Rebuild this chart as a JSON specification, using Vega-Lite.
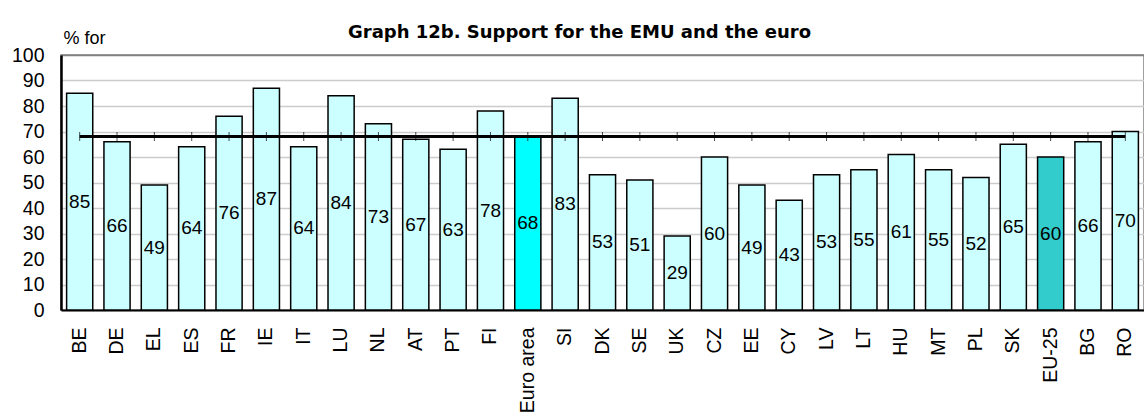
{
  "$schema": "https://vega.github.io/schema/vega-lite/v6.json",
  "autosize": "none",
  "width": 1083,
  "height": 255,
  "padding": {"left": 61, "top": 55, "right": 0, "bottom": 106},
  "background": "white",
  "config": {
    "font": "Liberation Sans",
    "view": {"stroke": "#808080", "strokeWidth": 1.5}
  },
  "title": {
    "text": "Graph 12b. Support for the EMU and the euro",
    "font": "DejaVu Sans",
    "fontSize": 18,
    "fontWeight": "bold",
    "color": "black",
    "anchor": "start",
    "frame": "group",
    "dx": 287,
    "dy": 17,
    "offset": 4
  },
  "data": {
    "values": [
      {"c": "BE", "v": 85},
      {"c": "DE", "v": 66},
      {"c": "EL", "v": 49},
      {"c": "ES", "v": 64},
      {"c": "FR", "v": 76},
      {"c": "IE", "v": 87},
      {"c": "IT", "v": 64},
      {"c": "LU", "v": 84},
      {"c": "NL", "v": 73},
      {"c": "AT", "v": 67},
      {"c": "PT", "v": 63},
      {"c": "FI", "v": 78},
      {"c": "Euro area", "v": 68},
      {"c": "SI", "v": 83},
      {"c": "DK", "v": 53},
      {"c": "SE", "v": 51},
      {"c": "UK", "v": 29},
      {"c": "CZ", "v": 60},
      {"c": "EE", "v": 49},
      {"c": "CY", "v": 43},
      {"c": "LV", "v": 53},
      {"c": "LT", "v": 55},
      {"c": "HU", "v": 61},
      {"c": "MT", "v": 55},
      {"c": "PL", "v": 52},
      {"c": "SK", "v": 65},
      {"c": "EU-25", "v": 60},
      {"c": "BG", "v": 66},
      {"c": "RO", "v": 70}
    ]
  },
  "encoding": {
    "x": {
      "field": "c",
      "type": "nominal",
      "sort": null,
      "scale": {"paddingInner": 0.3, "paddingOuter": 0.15},
      "axis": {
        "title": null,
        "labelAngle": 270,
        "labelFontSize": 19.5,
        "labelColor": "black",
        "labelPadding": 17,
        "ticks": false,
        "domainColor": "black",
        "domainWidth": 2
      }
    }
  },
  "layer": [
    {
      "mark": {"type": "bar", "stroke": "black", "strokeWidth": 1.5},
      "encoding": {
        "y": {
          "field": "v",
          "type": "quantitative",
          "scale": {"domain": [0, 100], "nice": false},
          "axis": {
            "values": [0, 10, 20, 30, 40, 50, 60, 70, 80, 90, 100],
            "grid": true,
            "gridColor": {"condition": {"test": "datum.value === 100", "value": "#808080"}, "value": "#cccccc"},
            "gridWidth": 1.5,
            "ticks": false,
            "domainColor": "black",
            "domainWidth": 2.5,
            "labelFontSize": 19.5,
            "labelColor": "black",
            "labelPadding": 17,
            "title": "% for",
            "titleAngle": 0,
            "titleAlign": "left",
            "titleBaseline": "middle",
            "titleX": 2,
            "titleY": -17,
            "titleFontSize": 18,
            "titleFontWeight": "normal",
            "titleColor": "black"
          }
        },
        "fill": {
          "condition": [
            {"test": "datum.c === 'Euro area'", "value": "#00FFFF"},
            {"test": "datum.c === 'EU-25'", "value": "#33CCCC"}
          ],
          "value": "#CCFFFF"
        }
      }
    },
    {
      "mark": {"type": "line", "color": "black", "strokeWidth": 3},
      "encoding": {
        "y": {"datum": 68, "type": "quantitative", "scale": {"domain": [0, 100], "nice": false}, "axis": null}
      }
    },
    {
      "mark": {"type": "tick", "orient": "vertical", "color": "black", "size": 9, "thickness": 1},
      "encoding": {
        "y": {"datum": 68, "type": "quantitative", "scale": {"domain": [0, 100], "nice": false}, "axis": null}
      }
    },
    {
      "mark": {"type": "text", "fontSize": 19, "color": "black", "align": "center", "baseline": "middle"},
      "encoding": {
        "y": {"field": "v", "type": "quantitative", "scale": {"domain": [0, 200], "nice": false}, "axis": null},
        "text": {"field": "v", "type": "quantitative"}
      }
    }
  ],
  "resolve": {"scale": {"y": "independent"}}
}
